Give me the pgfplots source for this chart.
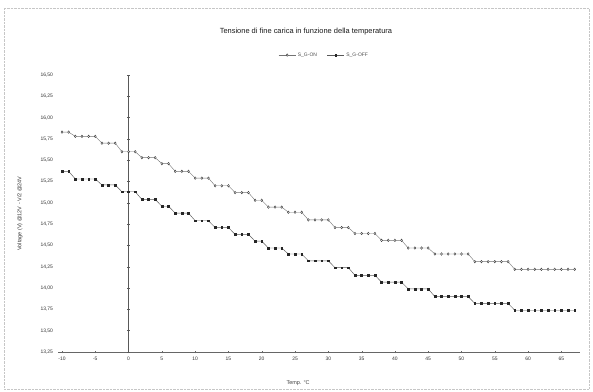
\documentclass[border=0pt]{standalone}
\usepackage{pgfplots}
\usepackage{pgfplotstable}
\usepackage{fontspec}
\setmainfont{Liberation Sans}
\pgfplotsset{compat=1.18}
\pgfplotstableread{
T up low
-10 15.83 15.37
-9 15.83 15.37
-8 15.78 15.28
-7 15.78 15.28
-6 15.78 15.28
-5 15.78 15.28
-4 15.70 15.21
-3 15.70 15.21
-2 15.70 15.21
-1 15.60 15.13
0 15.60 15.13
1 15.60 15.13
2 15.53 15.04
3 15.53 15.04
4 15.53 15.04
5 15.46 14.96
6 15.46 14.96
7 15.37 14.88
8 15.37 14.88
9 15.37 14.88
10 15.29 14.79
11 15.29 14.79
12 15.29 14.79
13 15.20 14.71
14 15.20 14.71
15 15.20 14.71
16 15.12 14.63
17 15.12 14.63
18 15.12 14.63
19 15.03 14.55
20 15.03 14.55
21 14.95 14.47
22 14.95 14.47
23 14.95 14.47
24 14.89 14.40
25 14.89 14.40
26 14.89 14.40
27 14.80 14.32
28 14.80 14.32
29 14.80 14.32
30 14.80 14.32
31 14.71 14.24
32 14.71 14.24
33 14.71 14.24
34 14.64 14.15
35 14.64 14.15
36 14.64 14.15
37 14.64 14.15
38 14.56 14.07
39 14.56 14.07
40 14.56 14.07
41 14.56 14.07
42 14.47 13.99
43 14.47 13.99
44 14.47 13.99
45 14.47 13.99
46 14.40 13.90
47 14.40 13.90
48 14.40 13.90
49 14.40 13.90
50 14.40 13.90
51 14.40 13.90
52 14.31 13.82
53 14.31 13.82
54 14.31 13.82
55 14.31 13.82
56 14.31 13.82
57 14.31 13.82
58 14.22 13.74
59 14.22 13.74
60 14.22 13.74
61 14.22 13.74
62 14.22 13.74
63 14.22 13.74
64 14.22 13.74
65 14.22 13.74
66 14.22 13.74
67 14.22 13.74
}\datatab
\begin{document}
\begin{tikzpicture}
\path[use as bounding box] (-58bp,-40bp) rectangle (535bp,352bp);
\draw[gray!45, densely dotted] (-54bp,-37bp) rectangle (531bp,344bp);
\begin{axis}[
  scale only axis,
  width=522bp, height=277bp,
  xmin=-10.6, xmax=67.8,
  ymin=13.25, ymax=16.50,
  xtick={-10,-5,...,65},
  ytick={13.25,13.5,...,16.5},
  axis x line*=bottom,
  axis y line*=left,
  y axis line style={draw=none},
  ytick style={draw=none},
  x axis line style={black!60, -},
  xtick style={black!60},
  tick align=center,
  major tick length=3pt,
  /pgf/number format/assume math mode=true,
  yticklabel style={/pgf/number format/.cd, fixed, fixed zerofill, precision=2, use comma, /tikz/.cd, font=\fontsize{5}{6}\selectfont, text=black!80},
  xticklabel style={font=\fontsize{5}{6}\selectfont, text=black!80},
  xlabel={Temp. °C},
  xlabel style={font=\fontsize{5.5}{6}\selectfont, text=black!75, at={(axis description cs:0.46,-0.09)}, anchor=north},
  ylabel={Voltage (V) @12V - V/2 @24V},
  ylabel style={font=\fontsize{5.5}{6}\selectfont, text=black!80, at={(axis description cs:-0.073,0.5)}, anchor=center},
  title={Tensione di fine carica in funzione della temperatura},
  title style={font=\fontsize{7.5}{8}\selectfont, text=black!90, at={(axis description cs:0.475,1.135)}, anchor=center},
  legend style={draw=none, fill=none, font=\fontsize{5}{6}\selectfont, text=black!70, at={(axis description cs:0.51,1.072)}, anchor=center, legend columns=2, /tikz/every even column/.append style={column sep=8pt}},
  legend cell align=left,
  clip=false,
]
\addplot[black!55, line width=0.4pt, mark=diamond*, mark size=1.3pt, mark options={fill=white, draw=black!80, solid}] table[x=T, y=up] {\datatab};
\addlegendentry{S\_G-ON}
\addplot[black!65, line width=0.45pt, mark=square*, mark size=0.9pt, mark options={fill=black!85, draw=black!85, solid}] table[x=T, y=low] {\datatab};
\addlegendentry{S\_G-OFF}
\draw[black!65] (axis cs:0,13.25) -- (axis cs:0,16.5);
\pgfplotsinvokeforeach{13.25,13.50,13.75,14.00,14.25,14.50,14.75,15.00,15.25,15.50,15.75,16.00,16.25,16.50}{
  \draw[black!65] ([xshift=-1.5pt]axis cs:0,#1) -- ([xshift=1.5pt]axis cs:0,#1);
}
\end{axis}
\end{tikzpicture}
\end{document}
